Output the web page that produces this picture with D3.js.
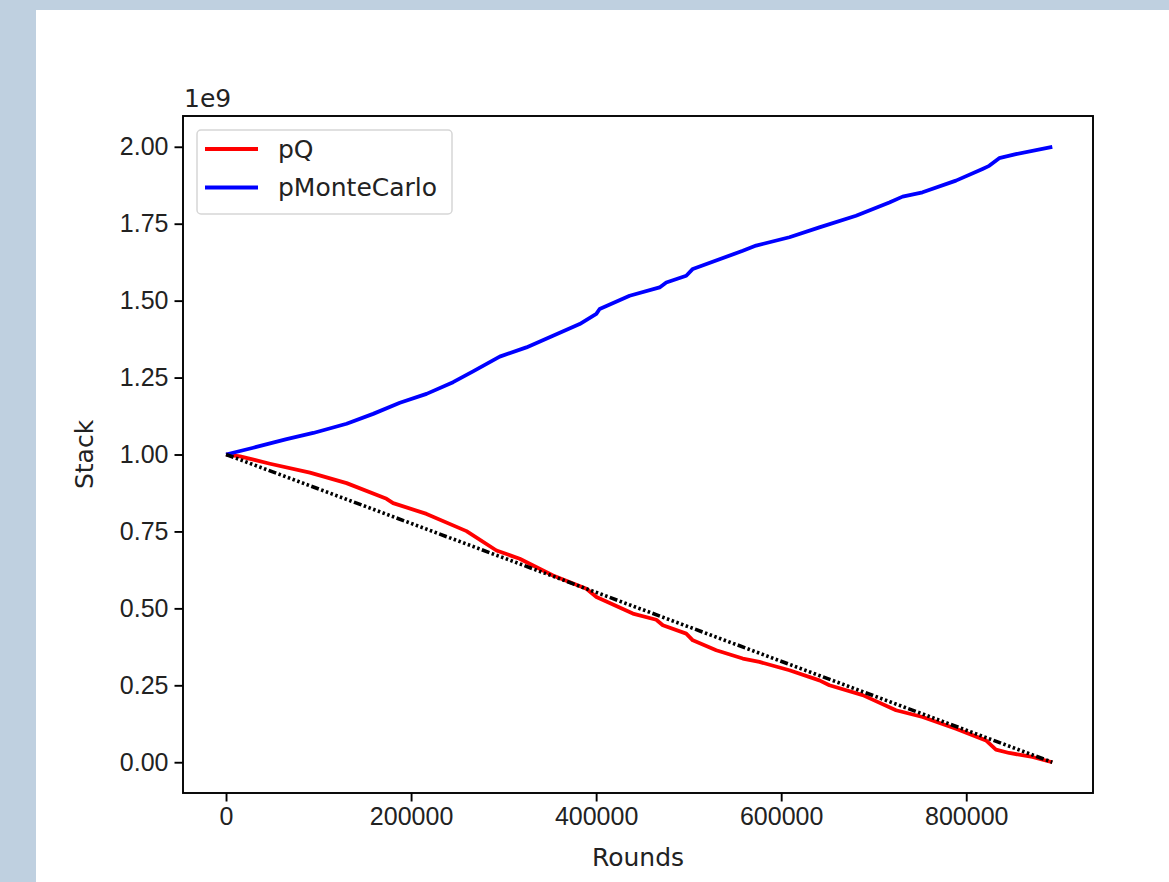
<!DOCTYPE html>
<html>
<head>
<meta charset="utf-8">
<script src="https://cdn.jsdelivr.net/npm/d3@7"></script>
<style>
  html, body { margin: 0; padding: 0; background: #bfd0e0; }
  body { width: 1169px; height: 882px; overflow: hidden; }
  svg { display: block; font-family: "DejaVu Sans", sans-serif; }
</style>
</head>
<body>
<div id="chart"></div>
<script>
// Data (rounds, stack)
var qRounds = [0, 15100, 47500, 90700, 130300, 173500, 180600, 216700, 259900, 292300,
  317400, 353400, 389500, 400300, 439700, 465000, 472100, 497400, 504500, 529800,
  558500, 576500, 608900, 641300, 652100, 688100, 724100, 752800, 788900, 821300,
  832100, 846400, 871600, 893000];
var qStack = [1.000e9, 0.994e9, 0.970e9, 0.941e9, 0.907e9, 0.856e9, 0.842e9, 0.807e9, 0.751e9, 0.688e9,
  0.661e9, 0.607e9, 0.564e9, 0.537e9, 0.483e9, 0.463e9, 0.445e9, 0.418e9, 0.396e9, 0.364e9,
  0.337e9, 0.326e9, 0.299e9, 0.266e9, 0.250e9, 0.218e9, 0.169e9, 0.147e9, 0.109e9, 0.071e9,
  0.041e9, 0.030e9, 0.017e9, 0.000e9];

var mcRounds = [0, 29500, 65500, 94300, 130300, 159000, 187900, 216700, 245400, 267000,
  295800, 324600, 353400, 382200, 400200, 403800, 436200, 468600, 475800, 497400,
  504500, 558500, 572900, 608900, 641300, 680900, 716900, 731200, 752800, 788900,
  817600, 824800, 835600, 853600, 893000];
var mcStack = [1.000e9, 1.022e9, 1.050e9, 1.070e9, 1.100e9, 1.132e9, 1.168e9, 1.197e9, 1.235e9, 1.270e9,
  1.318e9, 1.348e9, 1.386e9, 1.424e9, 1.457e9, 1.473e9, 1.516e9, 1.543e9, 1.559e9, 1.581e9,
  1.603e9, 1.662e9, 1.679e9, 1.706e9, 1.738e9, 1.776e9, 1.819e9, 1.838e9, 1.852e9, 1.890e9,
  1.928e9, 1.938e9, 1.963e9, 1.976e9, 2.000e9];

// straight reference line
var refRounds = [0, 893000];
var refStack = [1.0e9, 0];

var xTicks = [0, 200000, 400000, 600000, 800000];
var yTicks = [0, 0.25e9, 0.5e9, 0.75e9, 1.0e9, 1.25e9, 1.5e9, 1.75e9, 2.0e9];

var seriesNames = ["pQ", "pMonteCarlo"];
var seriesColors = ["#ff0000", "#0000ff"];

// SVG + axes box
var svgWidth = 1169;
var svgHeight = 882;
var box = { left: 183, right: 1093, top: 116, bottom: 793 };
var fontSize = "25px";

var svg = d3.select("#chart")
  .append("svg")
  .attr("width", svgWidth)
  .attr("height", svgHeight);

// white figure panel
svg.append("rect")
  .attr("x", 36).attr("y", 10)
  .attr("width", svgWidth - 36).attr("height", svgHeight - 10)
  .attr("fill", "#ffffff");

var x = d3.scaleLinear()
  .domain([-46500, 937000])
  .range([box.left, box.right]);

var y = d3.scaleLinear()
  .domain([-0.1e9, 2.1e9])
  .range([box.bottom, box.top]);

svg.append("clipPath").attr("id", "clip")
  .append("rect")
  .attr("x", box.left).attr("y", box.top)
  .attr("width", box.right - box.left).attr("height", box.bottom - box.top);

var line = d3.line()
  .x(function (d) { return x(d[0]); })
  .y(function (d) { return y(d[1]); });

var plot = svg.append("g").attr("clip-path", "url(#clip)");

// pQ
plot.append("path")
  .datum(d3.zip(qRounds, qStack))
  .attr("d", line)
  .attr("fill", "none")
  .attr("stroke", seriesColors[0])
  .attr("stroke-width", 3.8)
  .attr("stroke-linejoin", "round");

// pMonteCarlo
plot.append("path")
  .datum(d3.zip(mcRounds, mcStack))
  .attr("d", line)
  .attr("fill", "none")
  .attr("stroke", seriesColors[1])
  .attr("stroke-width", 3.8)
  .attr("stroke-linejoin", "round");

// black dash-dot reference
plot.append("path")
  .datum(d3.zip(refRounds, refStack))
  .attr("d", line)
  .attr("fill", "none")
  .attr("stroke", "#000000")
  .attr("stroke-width", 3.6)
  .attr("stroke-dasharray", "8,2.5,2.5,2.5,2.5,2.5,2.5,2.5,2.5,2.5,2.5,2.5,2.5,2.5,2.5,2.5");

// axes
var xAxis = d3.axisBottom(x).tickValues(xTicks).tickFormat(d3.format("d"))
  .tickSize(8.5).tickPadding(6);
var yAxis = d3.axisLeft(y).tickValues(yTicks).tickFormat(function (d) { return d3.format(".2f")(d / 1e9); })
  .tickSize(8.5).tickPadding(6);

var gx = svg.append("g")
  .attr("transform", "translate(0," + box.bottom + ")")
  .call(xAxis);
var gy = svg.append("g")
  .attr("transform", "translate(" + box.left + ",0)")
  .call(yAxis);

[gx, gy].forEach(function (g) {
  g.select(".domain").remove();
  g.selectAll(".tick line").attr("stroke", "#000").attr("stroke-width", 1.9);
  g.selectAll(".tick text").attr("fill", "#222").style("font-size", fontSize);
});

// frame
svg.append("rect")
  .attr("x", box.left).attr("y", box.top)
  .attr("width", box.right - box.left).attr("height", box.bottom - box.top)
  .attr("fill", "none")
  .attr("stroke", "#000")
  .attr("stroke-width", 1.9);

// labels
svg.append("text")
  .attr("x", (box.left + box.right) / 2)
  .attr("y", 866)
  .attr("text-anchor", "middle")
  .attr("fill", "#222")
  .style("font-size", fontSize)
  .text("Rounds");

svg.append("text")
  .attr("transform", "translate(93," + ((box.top + box.bottom) / 2) + ") rotate(-90)")
  .attr("text-anchor", "middle")
  .attr("fill", "#222")
  .style("font-size", fontSize)
  .text("Stack");

svg.append("text")
  .attr("x", box.left + 1)
  .attr("y", 107)
  .attr("fill", "#222")
  .style("font-size", fontSize)
  .text("1e9");

// legend
var legend = svg.append("g");
legend.append("rect")
  .attr("x", 197).attr("y", 130)
  .attr("width", 255).attr("height", 84)
  .attr("rx", 4)
  .attr("fill", "#ffffff")
  .attr("fill-opacity", 0.8)
  .attr("stroke", "#d6d6d6")
  .attr("stroke-width", 1.5);

seriesNames.forEach(function (name, i) {
  var ly = 149 + i * 38.5;
  legend.append("line")
    .attr("x1", 205).attr("x2", 258)
    .attr("y1", ly).attr("y2", ly)
    .attr("stroke", seriesColors[i])
    .attr("stroke-width", 3.8);
  legend.append("text")
    .attr("x", 278).attr("y", ly)
    .attr("dy", "0.35em")
    .attr("fill", "#222")
    .style("font-size", fontSize)
    .text(name);
});
</script>
</body>
</html>
